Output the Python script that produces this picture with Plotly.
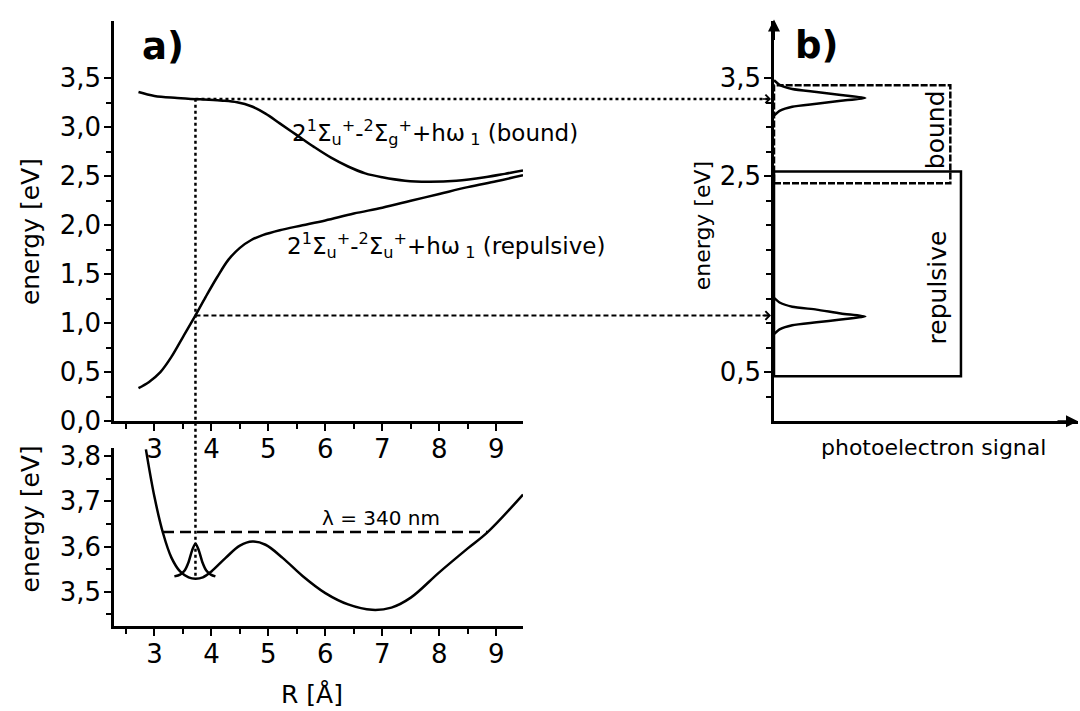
import plotly.graph_objects as go

W, H = 1080, 711
FONT = "DejaVu Sans, Liberation Sans, Arial, sans-serif"

# ---------------- data ----------------
# panel a), upper part: potential differences vs. internuclear distance R [Å]
R_bound = [2.72, 3.0, 3.4, 3.8, 4.2, 4.45, 4.7, 4.95, 5.2, 5.5, 5.8, 6.1, 6.4, 6.7, 7.0, 7.4, 7.8, 8.3, 8.8, 9.15, 9.47]
E_bound = [3.36, 3.32, 3.30, 3.285, 3.272, 3.255, 3.215, 3.14, 3.04, 2.92, 2.80, 2.69, 2.60, 2.53, 2.49, 2.455, 2.445, 2.455, 2.49, 2.525, 2.56]

R_rep = [2.72, 2.9, 3.1, 3.3, 3.5, 3.7, 3.9, 4.1, 4.3, 4.5, 4.7, 4.9, 5.2, 5.6, 6.0, 6.5, 7.0, 7.5, 8.0, 8.5, 9.0, 9.47]
E_rep = [0.34, 0.40, 0.50, 0.66, 0.86, 1.06, 1.27, 1.47, 1.65, 1.77, 1.85, 1.90, 1.95, 2.00, 2.05, 2.12, 2.18, 2.25, 2.32, 2.39, 2.45, 2.51]

# panel a), lower part: excited-state potential
R_pot = [2.85, 3.0, 3.15, 3.3, 3.45, 3.6, 3.72, 3.85, 4.0, 4.25, 4.5, 4.72, 4.95, 5.25, 5.6, 6.0, 6.4, 6.82, 7.16, 7.5, 8.0, 8.5, 8.85, 9.47]
E_pot = [3.815, 3.71, 3.63, 3.575, 3.545, 3.532, 3.529, 3.532, 3.545, 3.575, 3.602, 3.611, 3.604, 3.575, 3.535, 3.497, 3.472, 3.46, 3.465, 3.487, 3.543, 3.596, 3.632, 3.715]

# wave packet at the inner well
R_wp = [3.35, 3.45, 3.53, 3.60, 3.66, 3.72, 3.78, 3.84, 3.91, 3.99, 4.07]
E_wp = [3.534, 3.538, 3.547, 3.566, 3.591, 3.607, 3.591, 3.566, 3.547, 3.538, 3.534]

# pump photon energy (λ = 340 nm) and its crossing points with the potential
E_pump = 3.632
R_pump = [3.15, 8.85]

# excitation point and projected energies
R_exc = 3.72
E_exc_bound = 3.29
E_exc_rep = 1.08
E_exc_packet = 3.535

# panel b): photoelectron peaks (signal, energy)
E_pk_bound = [3.48, 3.43, 3.39, 3.36, 3.33, 3.30, 3.27, 3.24, 3.21, 3.17, 3.12]
S_pk_bound = [0.0, 0.02, 0.06, 0.14, 0.22, 0.30, 0.22, 0.14, 0.06, 0.02, 0.0]
E_pk_rep = [1.26, 1.21, 1.17, 1.14, 1.10, 1.07, 1.04, 1.01, 0.98, 0.94, 0.89]
S_pk_rep = [0.0, 0.02, 0.06, 0.14, 0.22, 0.30, 0.22, 0.14, 0.06, 0.02, 0.0]

# energy windows in panel b)
bound_window = [2.43, 3.43]
bound_width = 0.58
rep_window = [0.46, 2.55]
rep_width = 0.615

# tick labels
top_yticks = [0.0, 0.5, 1.0, 1.5, 2.0, 2.5, 3.0, 3.5]
top_ytext = ["0,0", "0,5", "1,0", "1,5", "2,0", "2,5", "3,0", "3,5"]
top_yminor = [0.25, 0.75, 1.25, 1.75, 2.25, 2.75, 3.25]
r_ticks = [3, 4, 5, 6, 7, 8, 9]
r_text = ["3", "4", "5", "6", "7", "8", "9"]
bot_yticks = [3.5, 3.6, 3.7, 3.8]
bot_ytext = ["3,5", "3,6", "3,7", "3,8"]
bot_yminor = [3.45, 3.55, 3.65, 3.75]
b_yticks = [0.5, 2.5, 3.5]
b_ytext = ["0,5", "2,5", "3,5"]
b_yminor = [0.25, 0.75, 1.0, 1.25, 1.5, 1.75, 2.0, 2.25, 2.75, 3.0, 3.25]

# ---------------- layout geometry ----------------
def px(x):
    return x / W

def py(y):
    return 1 - y / H

top_xdom = [px(114), px(523)]
top_xr = [2.29, 9.47]
top_ydom = [py(428), py(15)]
top_yr = [0, 4.089]
bot_xdom = top_xdom
bot_xr = top_xr
bot_ydom = [py(639), py(455)]
bot_yr = [3.424, 3.819]
b_xdom = [px(774), px(1078)]
b_xr = [0, 1]

def to_paper(v, dom, rng):
    return dom[0] + (v - rng[0]) / (rng[1] - rng[0]) * (dom[1] - dom[0])

LW = 2.5

def curve(x, y, xa, ya, sm=1.0):
    return go.Scatter(x=x, y=y, mode="lines", xaxis=xa, yaxis=ya, hoverinfo="skip",
                      line=dict(color="black", width=LW, shape="spline", smoothing=sm))

fig = go.Figure()
fig.add_trace(curve(R_bound, E_bound, "x", "y"))
fig.add_trace(curve(R_rep, E_rep, "x", "y"))
fig.add_trace(curve(R_pot, E_pot, "x2", "y2"))
fig.add_trace(curve(R_wp, E_wp, "x2", "y2", 0.8))
fig.add_trace(go.Scatter(x=R_pump, y=[E_pump, E_pump], mode="lines", xaxis="x2", yaxis="y2",
                         line=dict(color="black", width=LW, dash="11px,6px")))
fig.add_trace(curve(S_pk_bound, E_pk_bound, "x3", "y3", 0.6))
fig.add_trace(curve(S_pk_rep, E_pk_rep, "x3", "y3", 0.6))

tickfont = dict(family=FONT, size=26, color="black")
common_axis = dict(showline=True, linecolor="black", linewidth=LW, ticks="outside", ticklen=7,
                   tickwidth=2, tickcolor="black", showgrid=False, zeroline=False, tickfont=tickfont)
minor_x = dict(dtick=0.5, tick0=0, ticklen=5, tickwidth=2, tickcolor="black", ticks="outside")

def minor_y(vals):
    return dict(tickmode="array", tickvals=vals, ticklen=5, tickwidth=2, tickcolor="black", ticks="outside")

fig.update_layout(
    width=W, height=H, margin=dict(l=0, r=0, t=0, b=0),
    paper_bgcolor="white", plot_bgcolor="rgba(0,0,0,0)", showlegend=False,
    xaxis=dict(domain=top_xdom, range=top_xr, anchor="y", tickmode="array", tickvals=r_ticks, ticktext=r_text,
               minor=minor_x, ticklabelstandoff=-4, **common_axis),
    yaxis=dict(domain=top_ydom, range=top_yr, anchor="x", tickmode="array", tickvals=top_yticks, ticktext=top_ytext,
               minor=minor_y(top_yminor), ticklabelstandoff=-2, **common_axis),
    xaxis2=dict(domain=bot_xdom, range=bot_xr, anchor="y2", tickmode="array", tickvals=r_ticks, ticktext=r_text,
                minor=minor_x, ticklabelstandoff=-4, **common_axis),
    yaxis2=dict(domain=bot_ydom, range=bot_yr, anchor="x2", tickmode="array", tickvals=bot_yticks, ticktext=bot_ytext,
                minor=minor_y(bot_yminor), ticklabelstandoff=-2, **common_axis),
    xaxis3=dict(domain=b_xdom, range=b_xr, anchor="y3", showticklabels=False, showline=True, linecolor="black",
                linewidth=LW, ticks="", showgrid=False, zeroline=False),
    yaxis3=dict(domain=top_ydom, range=top_yr, anchor="x3", tickmode="array", tickvals=b_yticks, ticktext=b_ytext,
                minor=minor_y(b_yminor), ticklabelstandoff=-2, **common_axis),
)

shapes = []
# vertical dotted line from the excitation point down to the wave packet
shapes.append(dict(type="line", xref="x", yref="paper", x0=R_exc, x1=R_exc,
                   y0=to_paper(E_exc_bound, top_ydom, top_yr), y1=to_paper(E_exc_packet, bot_ydom, bot_yr),
                   line=dict(color="black", width=LW, dash="3px,3px")))
# horizontal projections to panel b)
x_start = to_paper(R_exc, top_xdom, top_xr)
x_end = b_xdom[0] - px(6)
shapes.append(dict(type="line", xref="paper", yref="y", x0=x_start, x1=x_end, y0=E_exc_bound, y1=E_exc_bound,
                   line=dict(color="black", width=LW, dash="3px,3px")))
shapes.append(dict(type="line", xref="paper", yref="y", x0=x_start, x1=x_end, y0=E_exc_rep, y1=E_exc_rep,
                   line=dict(color="black", width=2, dash="5px,3px")))
# energy windows in b)
shapes.append(dict(type="rect", xref="x3", yref="y3", x0=0, x1=bound_width, y0=bound_window[0], y1=bound_window[1],
                   line=dict(color="black", width=2.5, dash="7px,2px")))
shapes.append(dict(type="rect", xref="x3", yref="y3", x0=0, x1=rep_width, y0=rep_window[0], y1=rep_window[1],
                   line=dict(color="black", width=2.5)))
fig.update_layout(shapes=shapes)

ann = []
def text(x, y, s, size=24, angle=0, xanchor="center", yanchor="middle"):
    ann.append(dict(x=x, y=y, xref="paper", yref="paper", text=s, showarrow=False, textangle=angle,
                    xanchor=xanchor, yanchor=yanchor, font=dict(family=FONT, size=size, color="black")))

text(px(163), py(42), "<b>a)</b>", size=37)
text(px(816), py(41), "<b>b)</b>", size=37)
text(px(30), py(233), "energy [eV]", size=25, angle=-90)
text(px(30), py(529), "energy [eV]", size=25, angle=-90)
text(px(702), py(227), "energy [eV]", size=22, angle=-90)
text(px(312), py(709), "R [Å]", size=25)
text(px(933), py(455), "photoelectron signal", size=22)
text(px(935), py(128), "bound", size=25, angle=-90)
text(px(937), py(290), "repulsive", size=25, angle=-90)

label_font = dict(family=FONT, size=23, color="black")
ann.append(dict(x=5.38, y=2.95, xref="x", yref="y", showarrow=False, xanchor="left", yanchor="middle",
                text="2<sup>1</sup>Σ<sub>u</sub><sup>+</sup>-<sup>2</sup>Σ<sub>g</sub><sup>+</sup>+hω<sub> 1</sub> (bound)",
                font=label_font))
ann.append(dict(x=5.30, y=1.79, xref="x", yref="y", showarrow=False, xanchor="left", yanchor="middle",
                text="2<sup>1</sup>Σ<sub>u</sub><sup>+</sup>-<sup>2</sup>Σ<sub>u</sub><sup>+</sup>+hω<sub> 1</sub> (repulsive)",
                font=label_font))
ann.append(dict(x=6.97, y=3.664, xref="x2", yref="y2", showarrow=False, xanchor="center", yanchor="middle",
                text="λ = 340 nm", font=dict(family=FONT, size=20, color="black")))

# arrowheads of the projections
for e in (E_exc_bound, E_exc_rep):
    ann.append(dict(x=x_end + px(3), y=e, xref="paper", yref="y", ax=-10, ay=0, text="", showarrow=True,
                    arrowhead=4, arrowsize=1.1, arrowwidth=1.5, arrowcolor="black", standoff=0))
# axis arrows of panel b)
ann.append(dict(x=b_xdom[0], y=py(14), xref="paper", yref="paper", ax=0, ay=22, text="", showarrow=True,
                arrowhead=2, arrowsize=1.2, arrowwidth=2, arrowcolor="black", standoff=0))
ann.append(dict(x=b_xdom[1], y=0, xref="paper", yref="y3", ax=-22, ay=0, text="", showarrow=True,
                arrowhead=2, arrowsize=1.2, arrowwidth=2, arrowcolor="black", standoff=0))

fig.update_layout(annotations=ann)
fig.write_html("out.html")
